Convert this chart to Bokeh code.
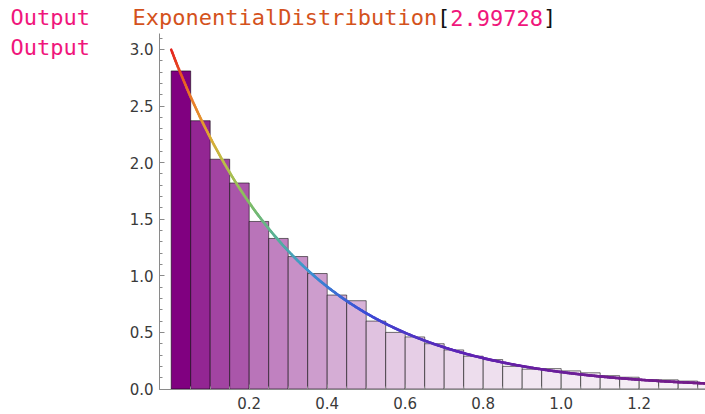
import numpy as np
from bokeh.plotting import figure
from bokeh.models import (Label, Range1d, ColumnDataSource, SingleIntervalTicker,
                          FixedTicker, PrintfTickFormatter)
from bokeh.transform import linear_cmap
from bokeh.embed import file_html
from bokeh.resources import INLINE

# ---------------- data ----------------
rate = 2.99728                       # ExponentialDistribution parameter
bin_width = 0.05
bin_left = [0.00, 0.05, 0.10, 0.15, 0.20, 0.25, 0.30, 0.35, 0.40, 0.45,
            0.50, 0.55, 0.60, 0.65, 0.70, 0.75, 0.80, 0.85, 0.90, 0.95,
            1.00, 1.05, 1.10, 1.15, 1.20, 1.25, 1.30, 1.35]
bar_height = [2.81, 2.37, 2.03, 1.82, 1.48, 1.33, 1.17, 1.02, 0.83, 0.78,
              0.60, 0.50, 0.46, 0.40, 0.345, 0.29, 0.26, 0.20, 0.175, 0.18,
              0.16, 0.143, 0.118, 0.104, 0.083, 0.081, 0.07, 0.055]
x_tick_values = [0.2, 0.4, 0.6, 0.8, 1.0, 1.2]
prompt_text = "Output"
dist_name = "ExponentialDistribution"
dist_param = "2.99728"

# ---------------- figure ----------------
W, H = 705, 414
px_x, px_y = 390.0, 113.2          # pixels per data unit
x0_px, y0_px = 170.7, 388.5        # page position of the data origin
p = figure(width=W, height=H, output_backend="svg", toolbar_location=None,
           x_range=Range1d(-x0_px / px_x, (W - x0_px) / px_x),
           y_range=Range1d(-(H - y0_px) / px_y, y0_px / px_y),
           min_border=0)
p.outline_line_color = None
p.grid.visible = False
p.background_fill_color = "white"

# histogram bars, coloured by height (light -> purple)
light = np.array([247, 241, 247]); dark = np.array([128, 0, 128])
palette = ["#%02x%02x%02x" % tuple(int(round(c)) for c in light + (dark - light) * t)
           for t in np.linspace(0, 1, 256)]
src = ColumnDataSource(dict(left=bin_left,
                            right=[b + bin_width for b in bin_left],
                            top=bar_height))
p.quad(left="left", right="right", bottom=0, top="top", source=src,
       fill_color=linear_cmap("top", palette, min(bar_height), max(bar_height)),
       line_color="black", line_alpha=0.55, line_width=1)

# PDF curve coloured by a rainbow gradient on its height
xs = np.linspace(0, 1.40, 500)
ys = rate * np.exp(-rate * xs)
stops = [(0.0, (120, 28, 129)), (0.10, (95, 35, 180)), (0.22, (60, 75, 215)),
         (0.35, (60, 150, 210)), (0.45, (90, 178, 150)), (0.55, (130, 190, 100)),
         (0.67, (190, 190, 70)), (0.75, (225, 165, 50)), (0.87, (235, 115, 40)),
         (1.0, (228, 35, 30))]
st_t = [s[0] for s in stops]
def rainbow(t):
    r = np.interp(t, st_t, [s[1][0] for s in stops])
    g = np.interp(t, st_t, [s[1][1] for s in stops])
    b = np.interp(t, st_t, [s[1][2] for s in stops])
    return "#%02x%02x%02x" % (int(r), int(g), int(b))
tm = (ys[:-1] + ys[1:]) / 2 / ys.max()
seg = ColumnDataSource(dict(x0=xs[:-1], y0=ys[:-1], x1=xs[1:], y1=ys[1:],
                            c=[rainbow(t) for t in tm]))
p.segment("x0", "y0", "x1", "y1", source=seg, line_color="c",
          line_width=2.6, line_cap="round")

# axes drawn inside the frame at fixed locations (Mathematica-style)
axis_col = "#8a8a8a"
for ax in (p.xaxis[0], p.yaxis[0]):
    ax.axis_line_color = axis_col
    ax.major_tick_line_color = axis_col
    ax.minor_tick_line_color = axis_col
    ax.major_tick_out = 0
    ax.minor_tick_out = 0
    ax.major_label_text_font = "DejaVu Sans"
    ax.major_label_text_font_size = "15px"
    ax.major_label_text_color = "#3a3a3a"

p.yaxis.fixed_location = -0.03
p.yaxis.bounds = (0, 3.14)
p.yaxis.ticker = SingleIntervalTicker(interval=0.5, num_minor_ticks=5)
p.yaxis.formatter = PrintfTickFormatter(format="%.1f")
p.yaxis.major_tick_in = 5
p.yaxis.minor_tick_in = 3
p.yaxis.major_label_standoff = 6

p.xaxis.fixed_location = 0
p.xaxis.bounds = (-0.03, 1.40)
p.xaxis.ticker = FixedTicker(ticks=x_tick_values,
                             minor_ticks=[round(0.05 * i, 2) for i in range(1, 28)])
p.xaxis.formatter = PrintfTickFormatter(format="%.1f")
p.xaxis.major_tick_in = 5
p.xaxis.minor_tick_in = 3
p.xaxis.major_label_standoff = 8

# header texts (screen units; frame == whole canvas)
mono = "DejaVu Sans Mono"
fs = 22
cw = fs * 0.602
pink = "#f0167c"
orange = "#d4521c"

def add_text(txt, page_x, page_y, color):
    p.add_layout(Label(x=page_x, y=H - page_y,
                       x_units="screen", y_units="screen", text=txt,
                       text_font=mono, text_font_size=f"{fs}px",
                       text_color=color, text_baseline="middle", text_align="left"))

add_text(prompt_text, 10, 17, pink)
add_text(prompt_text, 10, 47, pink)
hx = 132
add_text(dist_name, hx, 17, orange)
bx = hx + len(dist_name) * cw
add_text("[", bx, 17, "#111111")
add_text(dist_param, bx + cw, 17, pink)
add_text("]", bx + cw * (1 + len(dist_param)), 17, "#111111")

open("out.html", "w").write(file_html(p, INLINE))
